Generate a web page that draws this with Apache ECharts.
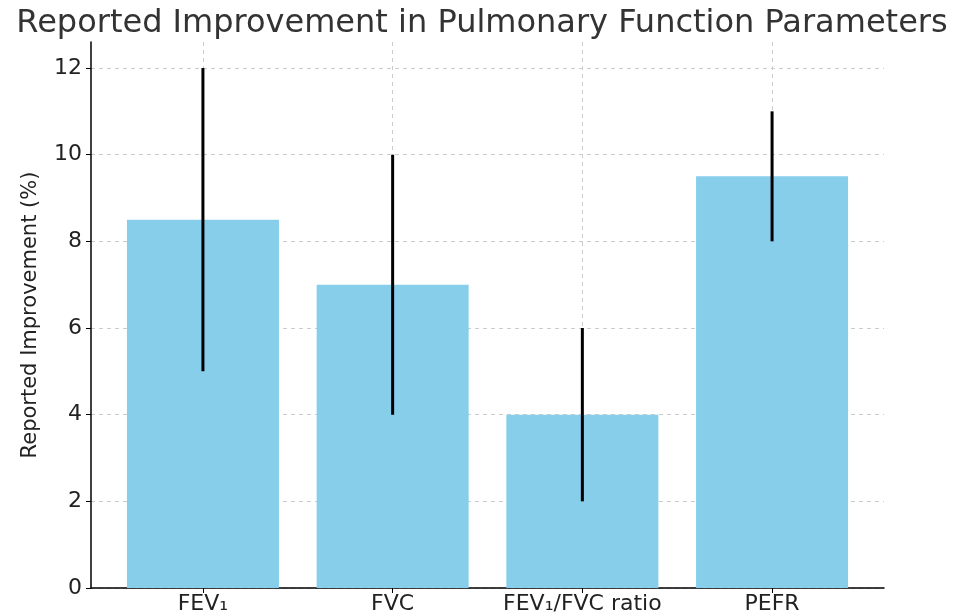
<!DOCTYPE html>
<html>
<head>
<meta charset="utf-8">
<script src="https://cdn.jsdelivr.net/npm/echarts@6/dist/echarts.min.js"></script>
<style>
  html, body { margin: 0; padding: 0; background: #fff; }
  #chart { width: 964px; height: 615px; }
</style>
</head>
<body>
<div id="chart"></div>
<script>
var categories = ['FEV\u2081', 'FVC', 'FEV\u2081/FVC ratio', 'PEFR'];
var improvement = [8.5, 7, 4, 9.5];
var errLow = [5, 4, 2, 8];
var errHigh = [12, 10, 6, 11];
var yTicks = [0, 2, 4, 6, 8, 10, 12];

var font = 'DejaVu Sans';

var chart = echarts.init(document.getElementById('chart'));

// bars placed on a value axis so that the spacing matches the original margins
var barData = improvement.map(function (v, i) { return [i, v]; });
var errData = categories.map(function (c, i) { return [i, errLow[i], errHigh[i]]; });

var option = {
  animation: false,
  title: {
    text: 'Reported Improvement in Pulmonary Function Parameters',
    left: 'center',
    top: 3,
    textStyle: { fontFamily: font, fontSize: 32, fontWeight: 'normal', color: '#333' }
  },
  grid: { left: 91, right: 80, top: 42, bottom: 26 },
  xAxis: {
    type: 'value',
    min: -0.59,
    max: 3.59,
    axisLine: { show: true, onZero: false, lineStyle: { color: '#000', width: 1.5 } },
    axisTick: { show: true, customValues: [0, 1, 2, 3], length: 5, lineStyle: { color: '#000' } },
    axisLabel: {
      customValues: [0, 1, 2, 3],
      formatter: function (v) { return categories[Math.round(v)]; },
      fontFamily: font, fontSize: 22, color: '#222', margin: 5
    },
    splitLine: { show: true, lineStyle: { color: '#ccc', type: [4, 4], width: 1 } }
  },
  yAxis: {
    type: 'value',
    min: 0,
    max: 12.6,
    axisLine: { show: true, onZero: false, lineStyle: { color: '#000', width: 1.5 } },
    axisTick: { show: true, customValues: yTicks, length: 5, lineStyle: { color: '#000' } },
    axisLabel: {
      customValues: yTicks,
      fontFamily: font, fontSize: 22, color: '#222', margin: 9
    },
    splitLine: { show: true, lineStyle: { color: '#ccc', type: [4, 4], width: 1 } },
    name: 'Reported Improvement (%)',
    nameLocation: 'middle',
    nameGap: 50,
    nameTextStyle: { fontFamily: font, fontSize: 21, color: '#222' }
  },
  series: [
    {
      type: 'bar',
      data: barData,
      barWidth: 152,
      itemStyle: { color: '#87CEEB' }
    },
    {
      type: 'custom',
      data: errData,
      encode: { x: 0, y: [1, 2] },
      renderItem: function (params, api) {
        var lo = api.coord([api.value(0), api.value(1)]);
        var hi = api.coord([api.value(0), api.value(2)]);
        return {
          type: 'line',
          shape: { x1: lo[0], y1: lo[1], x2: hi[0], y2: hi[1] },
          style: { stroke: '#000', lineWidth: 3 }
        };
      },
      z: 5
    }
  ]
};

chart.setOption(option);
</script>
</body>
</html>
